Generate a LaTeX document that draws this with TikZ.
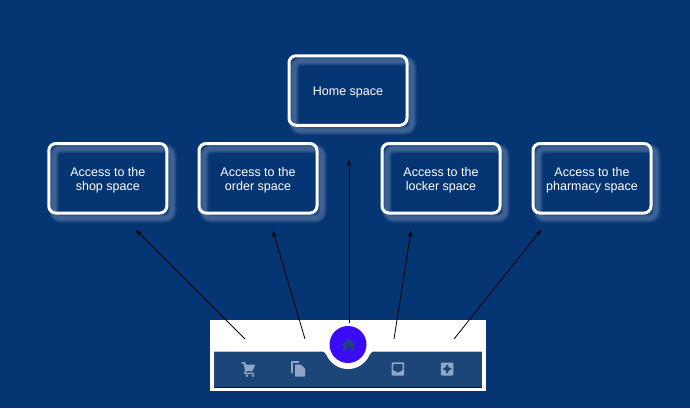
\documentclass[tikz,border=0pt]{standalone}
\usepackage{fontspec}
\setmainfont{Liberation Sans}
\usepackage{xcolor}
\usetikzlibrary{arrows.meta}
\definecolor{pagebg}{HTML}{063574}
\definecolor{barblue}{HTML}{1C4677}
\definecolor{homeblue}{HTML}{3A0CF5}
\definecolor{iconblue}{HTML}{8FA6C6}
\tikzset{
	spacebox/.style={
		rectangle, rounded corners=7pt, minimum width=118pt, minimum height=69.5pt,
		draw=white, line width=3pt,
		preaction={draw=white, draw opacity=.05, line width=10pt, transform canvas={shift={(5pt,-5pt)}}},
		preaction={draw=white, draw opacity=.06, line width=8pt, transform canvas={shift={(5pt,-5pt)}}},
		preaction={draw=white, draw opacity=.07, line width=6pt, transform canvas={shift={(5pt,-5pt)}}},
		preaction={draw=white, draw opacity=.07, line width=4pt, transform canvas={shift={(5pt,-5pt)}}}
	},
	spacetext/.style={align=center, text=white, font=\fontsize{12.5pt}{14.5pt}\selectfont, yshift=-2pt},
	accessarrow/.style={-{Stealth[length=6pt,width=5pt]}, black, line width=.8pt},
	navicon/.style={fill=iconblue, draw=none}
}
\begin{document}
\begin{tikzpicture}[x=1pt, y=-1pt, line join=round]
	\useasboundingbox (0,0) rectangle (690,408);
	\fill[pagebg] (0,0) rectangle (690,408);

	\node[spacebox] (home) at (348,90.5) {};
	\node[spacebox] (shop) at (107.8,178.3) {};
	\node[spacebox] (order) at (258,178.3) {};
	\node[spacebox] (locker) at (441,178.3) {};
	\node[spacebox] (pharmacy) at (592,178.3) {};
	\node[spacetext] (hometext) at (home) {Home space};
	\node[spacetext] (shoptext) at (shop) {Access to the\\shop space};
	\node[spacetext] (ordertext) at (order) {Access to the\\order space};
	\node[spacetext] (lockertext) at (locker) {Access to the\\locker space};
	\node[spacetext] (pharmacytext) at (pharmacy) {Access to the\\pharmacy space};

	% navigation bar
	\fill[white] (210,320) rectangle (486,391);
	\fill[barblue] (214,351) rectangle (482,387.3);
	\draw[black!70!barblue, line width=.6pt] (214,387.3) -- (482,387.3);
	\draw[black!25, line width=.6pt] (214,351) -- (482,351);
	\fill[white] (320,350.5) .. controls (324,350.5) and (325,353) .. (327,356)
		.. controls (331,364) and (339,369) .. (348,369)
		.. controls (357,369) and (365,364) .. (369,356)
		.. controls (371,353) and (372,350.5) .. (376,350.5) -- cycle;
	\fill[homeblue] (348,344.5) circle (18.5);

	% icons
	\fill[barblue] (348.5,339) -- (355.5,345) -- (353.5,345) -- (353.5,350.5) -- (350.5,350.5) -- (350.5,346.5) -- (346.5,346.5) -- (346.5,350.5) -- (343.5,350.5) -- (343.5,345) -- (341.5,345) -- cycle;
	\fill[navicon] (241.7,362) -- (245,362) -- (246,364.5) -- (255.3,364.5) -- (252.5,371) -- (246.5,371) -- (246,372.5) -- (254,372.5) -- (254,374) -- (244,374) -- (245,370.5) -- (243.5,363.5) -- (241.7,363.5) -- cycle;
	\fill[navicon] (247,375.7) circle (1.4) (253,375.7) circle (1.4);
	\draw[iconblue, line width=1.5pt] (292,373) -- (292,362) -- (299,362);
	\fill[navicon] (295,364.5) -- (301,364.5) -- (305,368.5) -- (305,376.5) -- (295,376.5) -- cycle;
	\fill[navicon, rounded corners=1pt, even odd rule] (391.7,362.3) rectangle (404.2,375.7)
		(393.2,363.8) -- (402.7,363.8) -- (402.7,371) -- (400,371) -- (399,372.8) -- (396.9,372.8) -- (395.9,371) -- (393.2,371) -- cycle;
	\fill[navicon, rounded corners=1pt, even odd rule] (440.8,362.5) rectangle (453.3,375.5)
		(445.8,364.5) -- (448.3,364.5) -- (448.3,367.7) -- (451.3,367.7) -- (451.3,370.2) -- (448.3,370.2) -- (448.3,373.5) -- (445.8,373.5) -- (445.8,370.2) -- (442.8,370.2) -- (442.8,367.7) -- (445.8,367.7) -- cycle;

	% arrows
	\coordinate (shopstart) at (245,339);
	\coordinate (shopend) at (136,230);
	\coordinate (orderstart) at (305,339);
	\coordinate (orderend) at (273,231);
	\coordinate (homestart) at (349,323);
	\coordinate (homeend) at (349,160);
	\coordinate (lockerstart) at (394,339);
	\coordinate (lockerend) at (411,231);
	\coordinate (pharmacystart) at (454,339);
	\coordinate (pharmacyend) at (541,230);
	\draw[accessarrow] (shopstart) -- (shopend);
	\draw[accessarrow] (orderstart) -- (orderend);
	\draw[accessarrow] (homestart) -- (homeend);
	\draw[accessarrow] (lockerstart) -- (lockerend);
	\draw[accessarrow] (pharmacystart) -- (pharmacyend);
\end{tikzpicture}
\end{document}
